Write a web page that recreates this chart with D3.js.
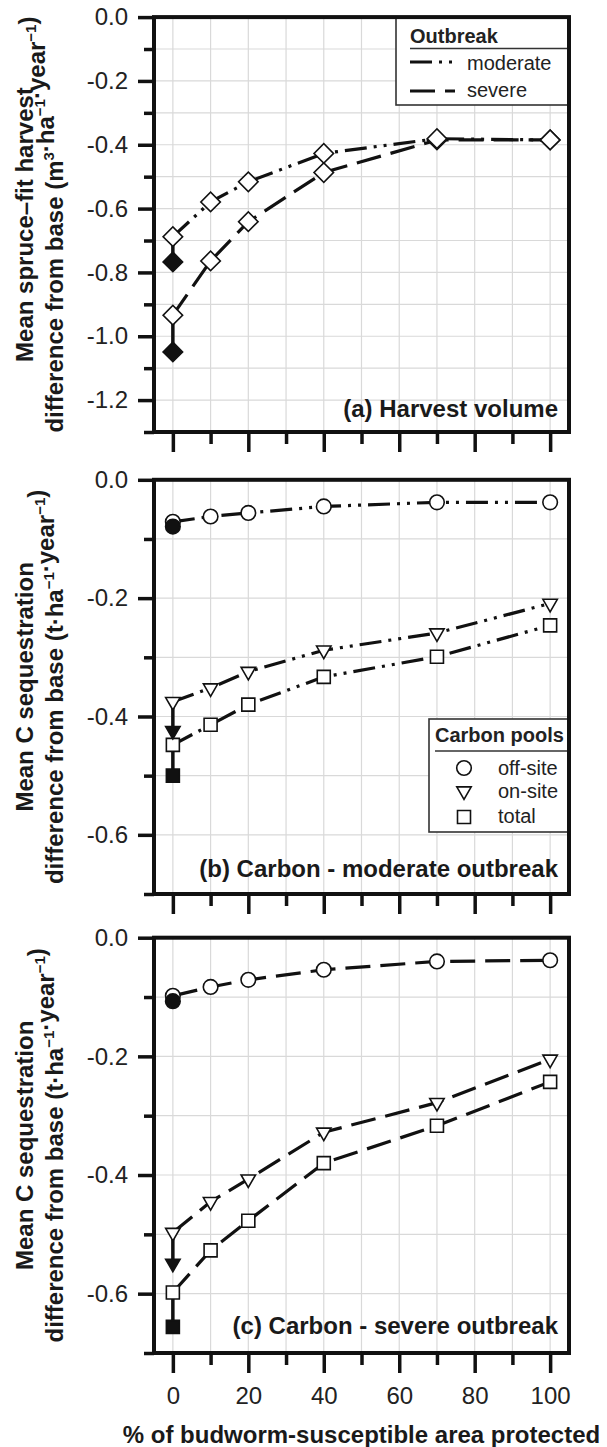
<!DOCTYPE html>
<html><head><meta charset="utf-8">
<script src="https://cdn.jsdelivr.net/npm/d3@7"></script>
<style>
html,body{margin:0;padding:0;background:#fff;}
svg{display:block;font-family:"Liberation Sans",Arial,Helvetica,sans-serif;}
</style></head>
<body><svg id="chart" width="607" height="1447"></svg>
<script>
// ---------- DATA ----------
const xPct = [0, 10, 20, 40, 70, 100];
const xTickLabels = [0, 20, 40, 60, 80, 100];

// (a) harvest volume, open diamonds
const harvestModerate = [-0.688, -0.579, -0.516, -0.427, -0.381, -0.385];
const harvestSevere   = [-0.934, -0.764, -0.641, -0.487, -0.385, -0.385];
// filled diamonds at 0% (no protection): moderate, severe
const harvestFilled   = [-0.767, -1.049];

// (b) carbon, moderate outbreak
const carbonModOff   = [-0.071, -0.062, -0.056, -0.045, -0.038, -0.038];
const carbonModOn    = [-0.375, -0.352, -0.324, -0.288, -0.259, -0.209];
const carbonModTotal = [-0.448, -0.414, -0.380, -0.333, -0.299, -0.246];
const carbonModFilled = [-0.079, -0.424, -0.500]; // off, on, total at 0%

// (c) carbon, severe outbreak
const carbonSevOff   = [-0.098, -0.083, -0.071, -0.054, -0.040, -0.038];
const carbonSevOn    = [-0.497, -0.445, -0.407, -0.328, -0.278, -0.205];
const carbonSevTotal = [-0.598, -0.527, -0.477, -0.380, -0.317, -0.243];
const carbonSevFilled = [-0.107, -0.549, -0.656];

const yTicksA  = [0.0, -0.2, -0.4, -0.6, -0.8, -1.0, -1.2];
const yTicksBC = [0.0, -0.2, -0.4, -0.6];
const outbreakNames = ["moderate", "severe"];
const poolNames = ["off-site", "on-site", "total"];
const panelLabels = ["(a) Harvest volume", "(b) Carbon - moderate outbreak", "(c) Carbon - severe outbreak"];

// ---------- STYLE ----------
const INK = "#111";
const DASH_MOD = "22,7,3,7,3,7";
const DASH_SEV = "25,10";
const svg = d3.select("#chart");
const x = d3.scaleLinear().domain([-5, 105]).range([154, 569]);
const X0 = x.range()[0], X1 = x.range()[1];

const panels = [
  {top: 17.1, bottom: 432, min: -1.3, ticks: yTicksA, labelY: 417},
  {top: 479.8, bottom: 894, min: -0.7, ticks: yTicksBC, labelY: 877},
  {top: 937.7, bottom: 1353, min: -0.7, ticks: yTicksBC, labelY: 1334}
];

const fmt = v => (v < 0 ? "-" : "") + Math.abs(v).toFixed(1);
const diamond = d3.symbol().type(d3.symbolSquare).size(190);
const circle = d3.symbol().type(d3.symbolCircle).size(Math.PI * 7.3 * 7.3);
const square = d3.symbol().type(d3.symbolSquare).size(13 * 13);
const triangle = d3.symbol().type(d3.symbolTriangle).size(90);

function drawPanel(p, idx) {
  const y = d3.scaleLinear().domain([p.min, 0]).range([p.bottom, p.top]);
  p.y = y;
  const g = svg.append("g");
  const allY = d3.range(0, Math.round(-p.min * 10) + 1).map(i => -i / 10);
  g.selectAll("line.gx").data(d3.range(0, 101, 10)).join("line")
    .attr("x1", d => x(d)).attr("x2", d => x(d))
    .attr("y1", p.top).attr("y2", p.bottom)
    .attr("stroke", "#d9d9d9").attr("stroke-width", 1.2);
  g.selectAll("line.gy").data(allY).join("line")
    .attr("x1", X0).attr("x2", X1)
    .attr("y1", d => y(d)).attr("y2", d => y(d))
    .attr("stroke", "#d9d9d9").attr("stroke-width", 1.2);

  const minorY = allY.filter(v => !p.ticks.some(t => Math.abs(t - v) < 1e-9));
  const axMinor = svg.append("g").attr("transform", `translate(${X0},0)`)
    .call(d3.axisLeft(y).tickValues(minorY).tickSize(10).tickFormat(""));
  const axMajor = svg.append("g").attr("transform", `translate(${X0},0)`)
    .call(d3.axisLeft(y).tickValues(p.ticks).tickSize(16).tickPadding(10).tickFormat(fmt));
  [axMinor, axMajor].forEach(a => {
    a.select(".domain").remove();
    a.selectAll("line").attr("stroke", INK).attr("stroke-width", 3.5);
    a.selectAll("text").attr("font-size", 24).attr("fill", "#222")
      .attr("font-family", "Liberation Sans, Arial, sans-serif");
  });

  const minorX = d3.range(10, 100, 20);
  const bxMinor = svg.append("g").attr("transform", `translate(0,${p.bottom})`)
    .call(d3.axisBottom(x).tickValues(minorX).tickSize(12).tickFormat(""));
  const bxMajor = svg.append("g").attr("transform", `translate(0,${p.bottom})`)
    .call(d3.axisBottom(x).tickValues(xTickLabels).tickSize(20).tickPadding(14)
      .tickFormat(idx === 2 ? d3.format("d") : ""));
  [bxMinor, bxMajor].forEach(a => {
    a.select(".domain").remove();
    a.selectAll("line").attr("stroke", INK).attr("stroke-width", 3.5);
    a.selectAll("text").attr("font-size", 24).attr("fill", "#222")
      .attr("font-family", "Liberation Sans, Arial, sans-serif");
  });
  return g;
}

function seriesLine(p, vals, dash) {
  const line = d3.line().x((d, i) => x(xPct[i])).y(d => p.y(d));
  svg.append("path").datum(vals).attr("d", line)
    .attr("fill", "none").attr("stroke", INK).attr("stroke-width", 3.2)
    .attr("stroke-dasharray", dash);
}
function dropLine(p, v0, v1) {
  svg.append("line").attr("x1", x(0)).attr("x2", x(0))
    .attr("y1", p.y(v0)).attr("y2", p.y(v1))
    .attr("stroke", INK).attr("stroke-width", 3.5);
}
function markers(p, vals, sym, rot, fill) {
  svg.append("g").selectAll("path").data(vals).join("path")
    .attr("d", sym)
    .attr("transform", (d, i) => `translate(${x(xPct[i])},${p.y(d)}) rotate(${rot})`)
    .attr("fill", fill).attr("stroke", INK).attr("stroke-width", 1.6);
}
function filledAt0(p, v, sym, rot) {
  svg.append("path").attr("d", sym)
    .attr("transform", `translate(${x(0)},${p.y(v)}) rotate(${rot})`)
    .attr("fill", INK).attr("stroke", INK).attr("stroke-width", 1.6);
}

panels.forEach((p, i) => drawPanel(p, i));

// ---------- (a) ----------
const pa = panels[0];
seriesLine(pa, harvestSevere, DASH_SEV);
seriesLine(pa, harvestModerate, DASH_MOD);
dropLine(pa, harvestModerate[0], harvestFilled[0]);
dropLine(pa, harvestSevere[0], harvestFilled[1]);
markers(pa, harvestSevere, diamond, 45, "#fff");
markers(pa, harvestModerate, diamond, 45, "#fff");
filledAt0(pa, harvestFilled[0], diamond, 45);
filledAt0(pa, harvestFilled[1], diamond, 45);

// ---------- (b) & (c) ----------
function carbonPanel(p, off, on, tot, filled, dash) {
  seriesLine(p, off, dash);
  seriesLine(p, on, dash);
  seriesLine(p, tot, dash);
  dropLine(p, on[0], filled[1]);
  dropLine(p, tot[0], filled[2]);
  markers(p, off, circle, 0, "#fff");
  markers(p, on, triangle, 180, "#fff");
  markers(p, tot, square, 0, "#fff");
  filledAt0(p, filled[0], circle, 0);
  filledAt0(p, filled[1], triangle, 180);
  filledAt0(p, filled[2], square, 0);
}
carbonPanel(panels[1], carbonModOff, carbonModOn, carbonModTotal, carbonModFilled, DASH_MOD);
carbonPanel(panels[2], carbonSevOff, carbonSevOn, carbonSevTotal, carbonSevFilled, DASH_SEV);

// ---------- legends ----------
const la = svg.append("g");
la.append("rect").attr("x", 396).attr("y", pa.top).attr("width", X1 - 396).attr("height", 105 - pa.top)
  .attr("fill", "#fff").attr("stroke", "#333").attr("stroke-width", 1.6);
la.append("text").attr("x", 410).attr("y", 43).attr("font-size", 20).attr("font-weight", "bold")
  .attr("fill", "#222").text("Outbreak");
la.append("line").attr("x1", 410).attr("x2", X1).attr("y1", 48.5).attr("y2", 48.5)
  .attr("stroke", "#333").attr("stroke-width", 1.5);
[[62, DASH_MOD, 70], [91, DASH_SEV, 97]].forEach((r, i) => {
  la.append("line").attr("x1", 410).attr("x2", 455).attr("y1", r[0]).attr("y2", r[0])
    .attr("stroke", INK).attr("stroke-width", 3.2).attr("stroke-dasharray", r[1]);
  la.append("text").attr("x", 467).attr("y", r[2]).attr("font-size", 20).attr("fill", "#222")
    .text(outbreakNames[i]);
});

const lb = svg.append("g");
lb.append("rect").attr("x", 429).attr("y", 719).attr("width", X1 - 429).attr("height", 113)
  .attr("fill", "#fff").attr("stroke", "#333").attr("stroke-width", 1.6);
lb.append("text").attr("x", 435).attr("y", 742).attr("font-size", 20).attr("font-weight", "bold")
  .attr("fill", "#222").text("Carbon pools");
lb.append("line").attr("x1", 435).attr("x2", X1).attr("y1", 751).attr("y2", 751)
  .attr("stroke", "#333").attr("stroke-width", 1.5);
[[circle, 0, 768, 775], [triangle, 180, 791, 798], [square, 0, 817, 823]].forEach((r, i) => {
  lb.append("path").attr("d", r[0]).attr("transform", `translate(464,${r[2]}) rotate(${r[1]})`)
    .attr("fill", "#fff").attr("stroke", INK).attr("stroke-width", 1.6);
  lb.append("text").attr("x", 498).attr("y", r[3]).attr("font-size", 20).attr("fill", "#222")
    .text(poolNames[i]);
});

// ---------- frames & panel labels ----------
panels.forEach((p, i) => {
  svg.append("rect").attr("x", X0).attr("y", p.top).attr("width", X1 - X0).attr("height", p.bottom - p.top)
    .attr("fill", "none").attr("stroke", INK).attr("stroke-width", 4);
  svg.append("text").attr("x", 558).attr("y", p.labelY).attr("text-anchor", "end")
    .attr("font-size", 24).attr("font-weight", "bold").attr("fill", "#1a1a1a").text(panelLabels[i]);
});

// ---------- axis titles ----------
function yTitle(p, line1, parts) {
  const cy = (p.top + p.bottom) / 2;
  svg.append("text").attr("transform", `translate(33,${cy}) rotate(-90)`)
    .attr("text-anchor", "middle").attr("font-size", 24).attr("font-weight", "bold").attr("fill", "#1a1a1a")
    .text(line1);
  const t2 = svg.append("text").attr("transform", `translate(63,${cy}) rotate(-90)`)
    .attr("text-anchor", "middle").attr("font-size", 24).attr("font-weight", "bold").attr("fill", "#1a1a1a");
  parts.forEach(pt => {
    if (pt.sup) {
      t2.append("tspan").attr("font-size", 15).attr("dy", -9).text(pt.sup);
      t2.append("tspan").attr("dy", 9).text("");
    } else {
      t2.append("tspan").text(pt.t);
    }
  });
}
yTitle(panels[0], "Mean spruce\u2013fit harvest",
  [{t: "difference from base (m"}, {sup: "3"}, {t: "\u00b7ha"}, {sup: "\u22121"}, {t: "\u00b7year"}, {sup: "\u22121"}, {t: ")"}]);
[panels[1], panels[2]].forEach(p => yTitle(p, "Mean C sequestration",
  [{t: "difference from base (t\u00b7ha"}, {sup: "\u22121"}, {t: "\u00b7year"}, {sup: "\u22121"}, {t: ")"}]));

svg.append("text").attr("x", (X0 + X1) / 2).attr("y", 1443).attr("text-anchor", "middle")
  .attr("font-size", 24).attr("font-weight", "bold").attr("fill", "#1a1a1a")
  .text("% of budworm-susceptible area protected");
</script>
</body></html>
